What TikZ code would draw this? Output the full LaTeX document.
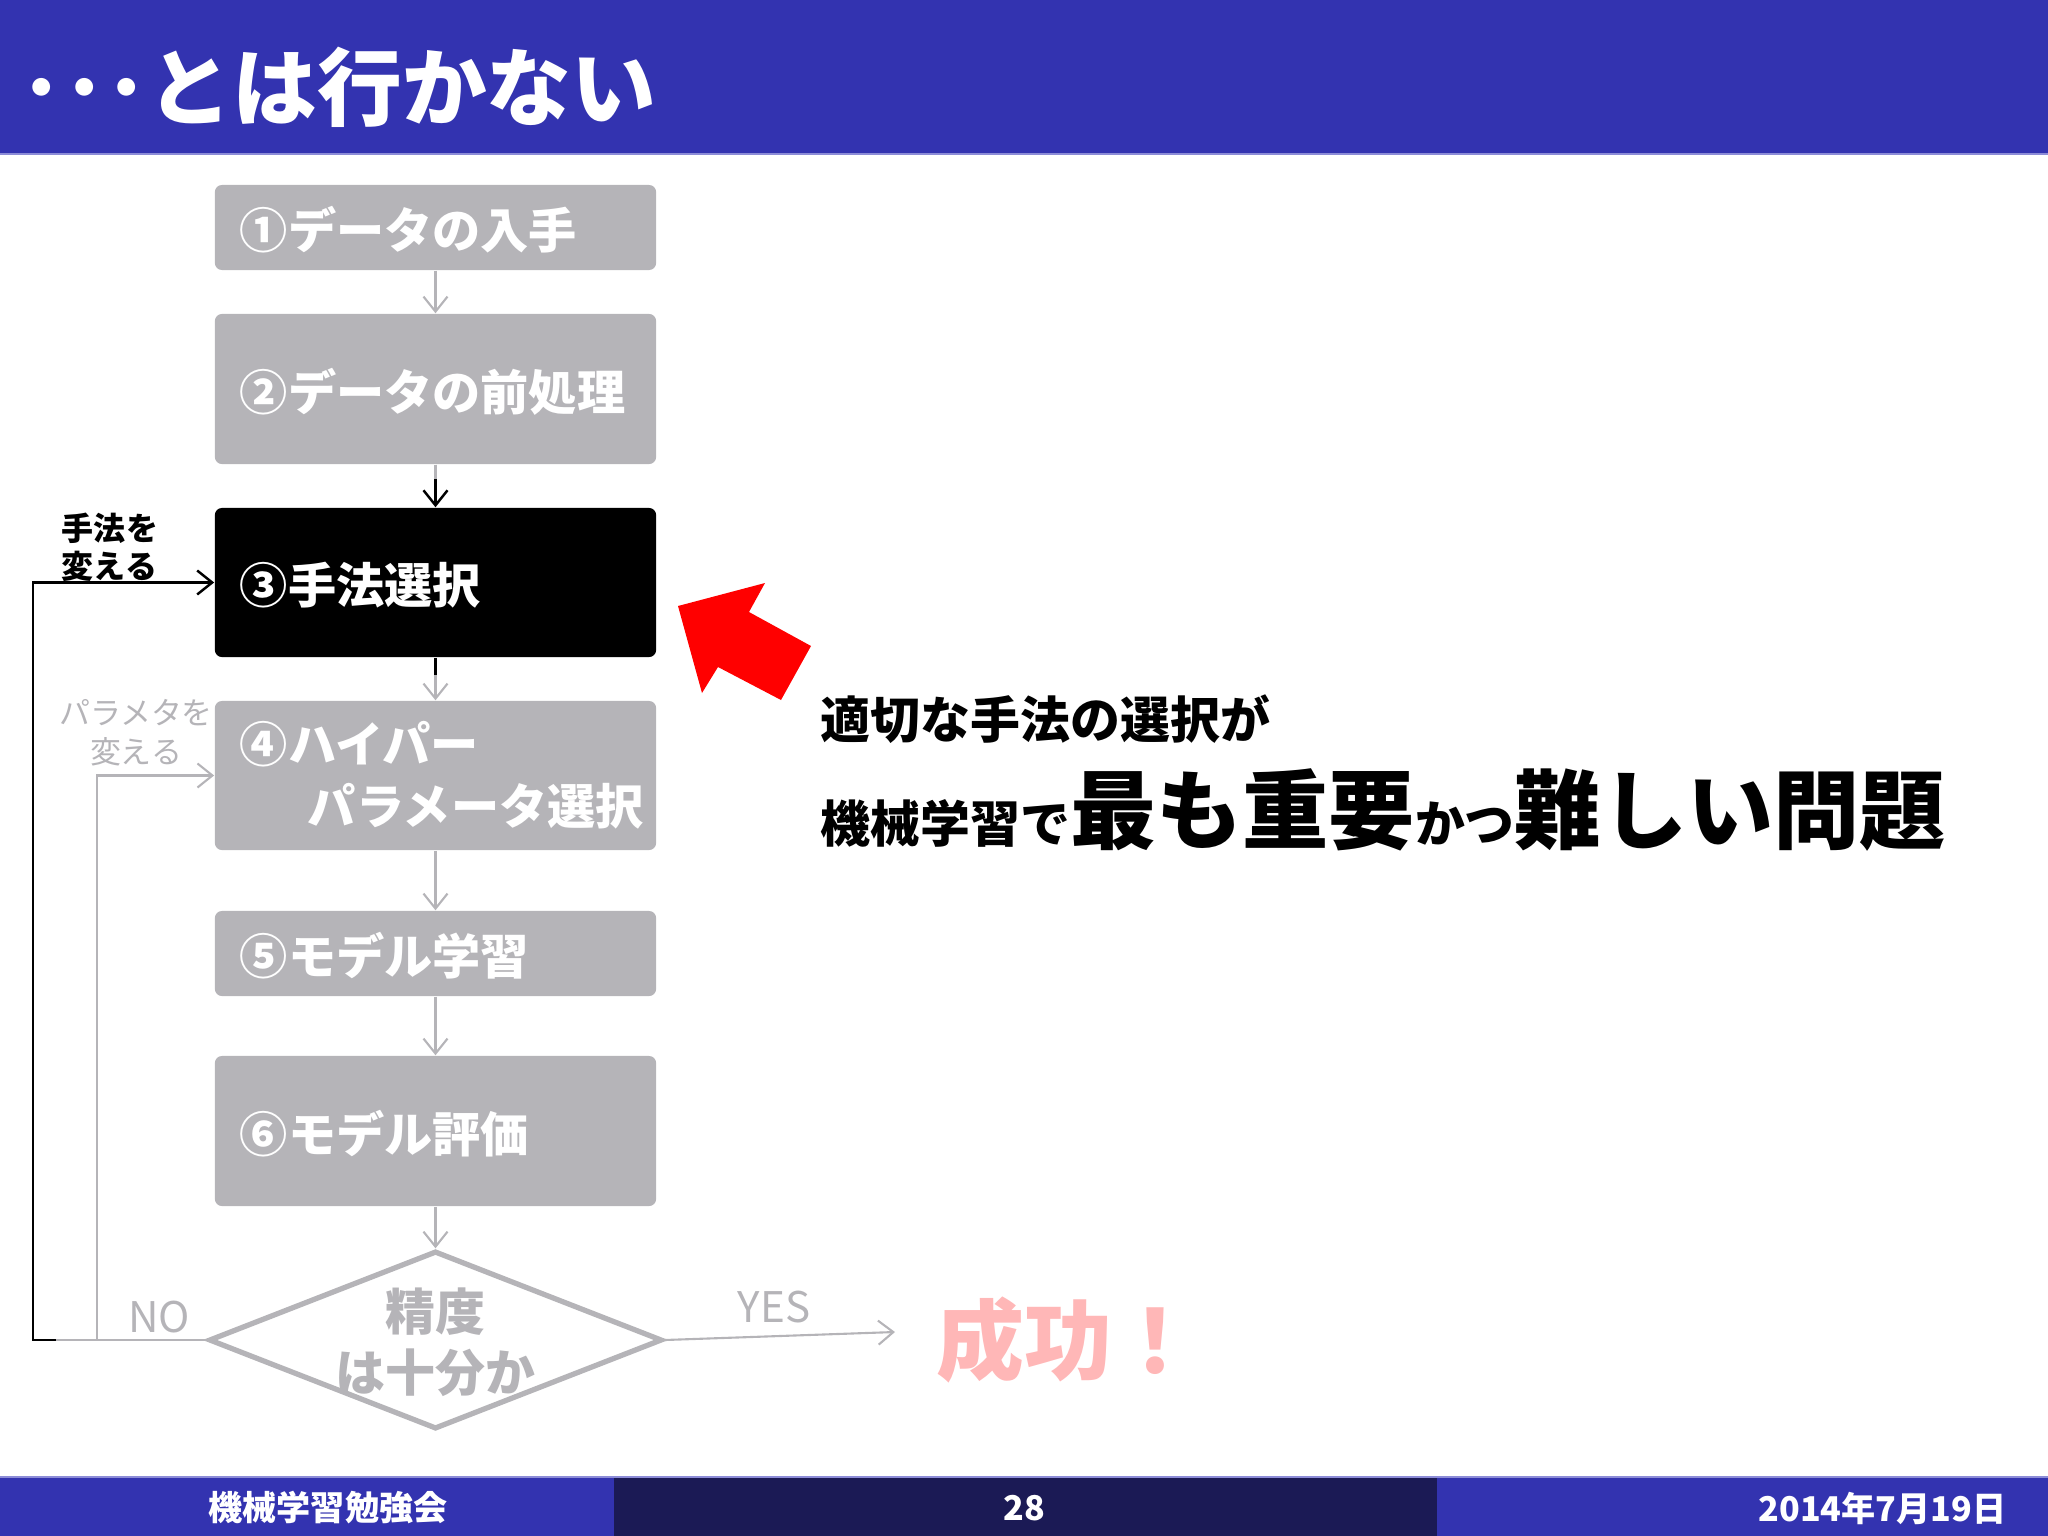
\documentclass[tikz,border=0pt]{standalone}
\usepackage{fontspec}
\setmainfont{Noto Sans CJK JP}
\usetikzlibrary{arrows.meta,shapes.geometric}

\definecolor{slideblue}{RGB}{51,51,176}
\definecolor{slidenavy}{RGB}{27,26,85}
\definecolor{rulelight}{RGB}{140,140,215}
\definecolor{boxgray}{RGB}{181,180,184}
\definecolor{seikopink}{RGB}{255,183,183}

\tikzset{
  stepbox/.style={fill=boxgray, rounded corners=2pt, text=white, align=left,
    font=\bfseries\fontsize{13.7}{17.6}\selectfont,
    minimum width=4.41cm, text width=3.91cm, inner xsep=0.25cm},
  onestep/.style={stepbox, text depth=0pt},
  flow/.style={draw=boxgray, line width=0.6pt, -{Straight Barb[length=0.15cm,width=0.24cm]}},
  flowblack/.style={draw=black, line width=0.7pt, -{Straight Barb[length=0.15cm,width=0.24cm]}},
  decision/.style={diamond, draw=boxgray, fill=white, line width=1.5pt, inner sep=0pt,
    minimum width=4.53cm, minimum height=1.78cm},
  sidelabel/.style={font=\fontsize{8.8}{11}\selectfont, inner sep=0pt}
}

\begin{document}
\begin{tikzpicture}[x=0.01cm, y=-0.01cm]
\useasboundingbox (0,0) rectangle (2048,1536);

% frame
\fill[slideblue] (0,0) rectangle (2048,154);
\draw[rulelight, line width=0.8pt] (0,154) -- (2048,154);
\node[anchor=west, text=white, inner sep=0pt, font=\bfseries\fontsize{24.1}{28}\selectfont] (title) at (20,87) {･･･とは行かない};

\fill[slideblue] (0,1477) rectangle (614,1536);
\fill[slidenavy] (614,1477) rectangle (1437,1536);
\fill[slideblue] (1437,1477) rectangle (2048,1536);
\draw[rulelight, line width=0.6pt] (0,1477) -- (2048,1477);
\node[text=white, font=\bfseries\fontsize{9.7}{11}\selectfont] (study) at (328,1508) {機械学習勉強会};
\node[text=white, font=\bfseries\fontsize{9.7}{11}\selectfont] (page) at (1024,1508) {28};
\node[anchor=east, inner sep=0pt, text=white, font=\bfseries\fontsize{9.7}{11}\selectfont] (date) at (2007,1508) {2014年7月19日};

% steps
\node[onestep, minimum height=0.85cm] (b1) at (435.5,227.5) {①データの入手};
\node[onestep, minimum height=1.50cm] (b2) at (435.5,389) {②データの前処理};
\node[onestep, minimum height=1.49cm, fill=black] (b3) at (435.5,582.5) {③手法選択};
\node[stepbox, minimum height=1.49cm] (b4) at (435.5,775.5) {\rule{0pt}{0.1cm}④ハイパー\\\hspace*{0.68cm}パラメータ選択};
\node[onestep, minimum height=0.85cm] (b5) at (435.5,953.5) {⑤モデル学習};
\node[onestep, minimum height=1.50cm] (b6) at (435.5,1131) {⑥モデル評価};
\node[decision] (dia) at (435.5,1340) {};
\node[text=boxgray, align=center, inner sep=0pt, font=\bfseries\fontsize{14.2}{17.4}\selectfont] (acc) at (435.5,1342) {精度\\は十分か};

\coordinate (lpblack) at (33,1340);
\coordinate (lpjoin) at (56,1340);
\coordinate (lpgray) at (97,1340);
\coordinate (goal) at (895,1332);

% arrows
\draw[flow] (b1) -- (b2);
\draw[flowblack] (b2) -- (b3);
\draw[boxgray, line width=0.6pt] (b2.south) -- ++(0,14);
\draw[flow] (b3) -- (b4);
\draw[black, line width=0.7pt] (b3.south) -- ++(0,17);
\draw[flow] (b4) -- (b5);
\draw[flow] (b5) -- (b6);
\draw[flow] (b6) -- (dia);
\draw[flowblack] (dia.west) -- (lpblack) |- (b3.west);
\draw[flow] (dia.west) -- (lpgray) |- (b4.west);
\draw[boxgray, line width=0.6pt] (dia.west) -- (lpjoin);
\draw[flow] (dia.east) -- (goal);

% labels
\node[sidelabel, align=left, font=\bfseries\fontsize{9.1}{10.8}\selectfont] (chgmethod) at (110,547) {手法を\\変える};
\node[sidelabel, align=center, text=boxgray] (chgparam) at (136,733) {パラメタを\\変える};
\node[text=boxgray, inner sep=0pt, font=\fontsize{12}{14}\selectfont] (no) at (159,1317) {NO};
\node[text=boxgray, inner sep=0pt, font=\fontsize{12}{14}\selectfont] (yes) at (774,1307) {YES};
\node[text=seikopink, inner sep=0pt, font=\bfseries\fontsize{25}{28}\selectfont] (seiko) at (1068,1340) {成功！};

% message
\fill[red] (678,606) -- (765,583) -- (749,612) -- (811,646) -- (781,700) -- (718,667) -- (702,693) -- cycle;
\node[anchor=base west, inner sep=0pt, font=\bfseries\fontsize{14.2}{17}\selectfont] (msg1) at (820,738) {適切な手法の選択が};
\node[anchor=base west, inner sep=0pt, font=\bfseries\fontsize{14.2}{17}\selectfont] (msg2) at (820,842)
  {機械学習で{\fontsize{24.5}{28}\selectfont 最も重要}かつ{\fontsize{24.5}{28}\selectfont 難しい問題}};
\end{tikzpicture}
\end{document}
